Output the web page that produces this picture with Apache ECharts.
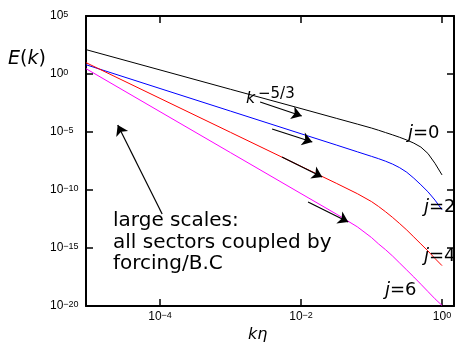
<!DOCTYPE html>
<html><head><meta charset="utf-8">
<script src="https://cdn.jsdelivr.net/npm/echarts@6/dist/echarts.min.js"></script>
<style>html,body{margin:0;padding:0;background:#fff}#c{width:463px;height:344px}</style>
</head><body><div id="c"></div>
<script>
// values are log10 decades
const xTickExps = [-4, -2, 0];
const yTickExps = [-20, -15, -10, -5, 0, 5];

const logK_j0 = [-5.05, -4, -3, -2, -1.5, -1.2, -1.0, -0.9, -0.8, -0.7, -0.6, -0.5, -0.4, -0.3, -0.2, -0.1, 0];
const logE_j0 = [2.1, 0.35, -1.32, -2.98, -3.82, -4.32, -4.66, -4.85, -5.05, -5.25, -5.46, -5.69, -5.96, -6.3, -6.85, -7.7, -8.7];

const logK_j2 = [-5.05, -4, -3, -2, -1.5, -1.2, -1.0, -0.9, -0.8, -0.7, -0.6, -0.5, -0.4, -0.3, -0.2, -0.1, 0];
const logE_j2 = [0.8, -1.25, -3.2, -5.15, -6.12, -6.71, -7.1, -7.3, -7.52, -7.77, -8.08, -8.47, -8.98, -9.55, -10.15, -10.87, -11.7];

const logK_j4 = [-5.05, -4, -3, -2, -1.5, -1.2, -1.0, -0.9, -0.8, -0.7, -0.6, -0.5, -0.4, -0.3, -0.2, -0.1, 0];
const logE_j4 = [0.98, -2.1, -5.03, -7.96, -9.42, -10.32, -11.0, -11.42, -11.88, -12.37, -12.9, -13.45, -14.05, -14.65, -15.25, -15.9, -16.52];

const logK_j6 = [-5.05, -4, -3, -2, -1.5, -1.2, -1.0, -0.9, -0.8, -0.7, -0.6, -0.5, -0.4, -0.3, -0.2, -0.1, 0];
const logE_j6 = [0.46, -3.25, -6.78, -10.31, -12.07, -13.18, -14.1, -14.65, -15.15, -15.7, -16.3, -16.9, -17.5, -18.12, -18.75, -19.38, -19.95];

// arrow annotations: [logk1, logE1, logk2, logE2]
const arrows = [
  [-2.58, -2.41, -1.99, -3.62],
  [-2.41, -4.74, -1.84, -5.86],
  [-2.27, -7.16, -1.70, -8.88],
  [-1.90, -11.03, -1.33, -12.76],
  [-3.97, -12.07, -4.60, -4.40]
];

const chart = echarts.init(document.getElementById('c'), null, {renderer: 'canvas'});

function expLabel(v) {
  const n = Math.round(v);
  if (Math.abs(v - n) > 1e-6) return '';
  return '{b|10}{s|' + (n < 0 ? '\u2212' + (-n) : n) + '}';
}
const labelRich = {
  b: {fontSize: 12, fontFamily: 'Liberation Sans', color: '#000', verticalAlign: 'bottom', lineHeight: 12},
  s: {fontSize: 9, fontFamily: 'Liberation Sans', color: '#000', verticalAlign: 'top', lineHeight: 10, padding: [0, 0, 5, 0]}
};
const axisLineStyle = {show: true, onZero: false, lineStyle: {color: '#000', width: 2}};
const tickStyle = {show: true, inside: true, length: 7, lineStyle: {color: '#000', width: 1.5}};

const pair = (ks, es) => ks.map((k, i) => [k, es[i]]);

const series = [
  {name: 'j=0', data: pair(logK_j0, logE_j0), color: '#000000'},
  {name: 'j=2', data: pair(logK_j2, logE_j2), color: '#0000ff'},
  {name: 'j=4', data: pair(logK_j4, logE_j4), color: '#ff0000'},
  {name: 'j=6', data: pair(logK_j6, logE_j6), color: '#ff00ff'}
].map(s => ({
  type: 'line', name: s.name, data: s.data, showSymbol: false, smooth: false,
  lineStyle: {color: s.color, width: 1}, itemStyle: {color: s.color}, z: 3, silent: true
}));

series.push({
  type: 'line', data: [], silent: true,
  markLine: {
    silent: true, animation: false,
    symbol: ['none', 'arrow'], symbolSize: 10,
    label: {show: false},
    lineStyle: {color: '#000', width: 1.2, type: 'solid'},
    data: arrows.map(a => [{coord: [a[0], a[1]]}, {coord: [a[2], a[3]]}])
  }
});

const t = (text, x, y, size, extra) => Object.assign({
  type: 'text', x: x, y: y, z: 10,
  style: Object.assign({text: text, fontSize: size, fontFamily: 'DejaVu Sans', fill: '#000'}, extra || {})
});
const jr = {rich: {i: {fontStyle: 'italic', fontSize: 18, fontFamily: 'DejaVu Sans'}}};

chart.setOption({
  animation: false,
  backgroundColor: '#fff',
  grid: {left: 86, right: 9, top: 16, bottom: 38},
  xAxis: [
    {type: 'value', min: -5.05, max: 0.17, splitNumber: 3, position: 'bottom',
     axisLine: axisLineStyle, axisTick: tickStyle, splitLine: {show: false},
     axisLabel: {formatter: expLabel, margin: 5, rich: labelRich}},
    {type: 'value', min: -5.05, max: 0.17, splitNumber: 3, position: 'top',
     axisLine: axisLineStyle, axisTick: tickStyle, splitLine: {show: false},
     axisLabel: {show: false}}
  ],
  yAxis: [
    {type: 'value', min: yTickExps[0], max: yTickExps[yTickExps.length - 1], interval: 5, position: 'left',
     axisLine: axisLineStyle, axisTick: tickStyle, splitLine: {show: false},
     axisLabel: {formatter: expLabel, margin: 36, align: 'left', rich: labelRich}},
    {type: 'value', min: yTickExps[0], max: yTickExps[yTickExps.length - 1], interval: 5, position: 'right',
     axisLine: axisLineStyle, axisTick: tickStyle, splitLine: {show: false},
     axisLabel: {show: false}}
  ],
  series: series,
  graphic: [
    t('{i|E}({i|k})', 8, 50, 19, {rich: {i: {fontStyle: 'italic', fontSize: 19, fontFamily: 'DejaVu Sans'}}}),
    t('{i|k\u03b7}', 248, 327, 16, {rich: {i: {fontStyle: 'italic', fontSize: 16, fontFamily: 'DejaVu Sans'}}}),
    t('k', 246, 107, 16, {fontStyle: 'italic', verticalAlign: 'bottom'}),
    t('\u22125/3', 258, 102, 15, {verticalAlign: 'bottom'}),
    t('{i|j}=0', 408, 124, 18, jr),
    t('{i|j}=2', 424, 198, 18, jr),
    t('{i|j}=4', 424, 247, 18, jr),
    t('{i|j}=6', 385, 281, 18, jr),
    t('large scales:\nall sectors coupled by\nforcing/B.C', 113, 210.5, 20, {fontFamily: 'DejaVu Sans', lineHeight: 21.3})
  ]
});
</script></body></html>
